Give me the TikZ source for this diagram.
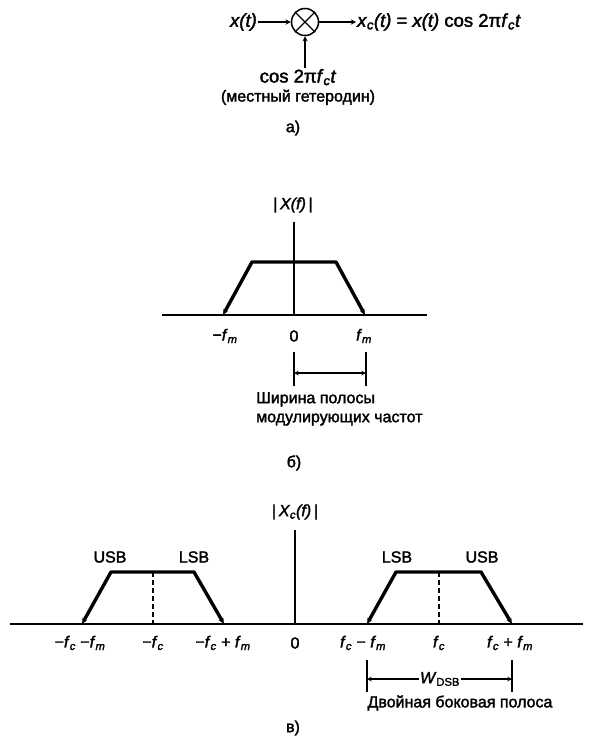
\documentclass[tikz,border=0pt]{standalone}
\usepackage{fontspec}
\setmainfont{Liberation Sans}[BoldFont={Liberation Sans},BoldFeatures={FakeBold=2},
  BoldItalicFont={Liberation Sans Italic},BoldItalicFeatures={FakeBold=2}]
\usetikzlibrary{arrows,arrows.meta}
\newcommand{\vr}[1]{\textit{#1}}
\newcommand{\lo}[1]{\textsubscript{\itshape #1}}
\newcommand{\up}[1]{\textsubscript{#1}}

\begin{document}
\begin{tikzpicture}[x=1pt,y=-1pt,
    every node/.style={font=\fontsize{16}{19}\selectfont\bfseries,inner sep=1pt},
    big/.style={font=\fontsize{18.5}{21}\selectfont\bfseries},
    axis/.style={line width=1.8pt},
    vaxis/.style={line width=1.3pt},
    band/.style={line width=3.4pt,line join=round,{Stealth[length=6pt,width=5pt]}-{Stealth[length=6pt,width=5pt]}},
    mid/.style={line width=1.1pt,dash pattern=on 5pt off 3pt}]
      \useasboundingbox (0,0) rectangle (589,749);

      \node[big,anchor=east] (X) at (258,22) { \vr{x(t)} } ;
      \node[draw,circle,minimum size=27pt,line width=1.5pt] (M) at (305,22) {} ;
      \node[big,anchor=west] (Y) at (356,22) { \vr{x}\lo{c}\vr{(t)} = \vr{x(t)} cos 2π\vr{f}\lo{c}\vr{t} } ;
      \node[align=center] (L) at (298,87) { {\fontsize{18.5}{21}\selectfont cos 2π\vr{f}\lo{c}\vr{t}}\\(местный гетеродин) } ;
      \node (A) at (293,128) { а) } ;
      \draw[line width=1.4pt] (M.north west) -- (M.south east) (M.north east) -- (M.south west) ;
      \draw[->,>=stealth,line width=1.3pt] (X) -- (M) ;
      \draw[->,>=stealth,line width=1.3pt] (M) -- (Y) ;
      \draw[->,>=stealth,line width=1.3pt] (M |- L.north) -- (M) ;

      \draw[axis] (162,315) -- (427,315) ;
      \draw[vaxis] (294,315) -- (294,222) ;
      \draw[band] (223,315) -- (252,262) -- (336,262) -- (365,315) ;
      \node (XF) at (293,205) { |\,\vr{X(f)}\,| } ;
      \node (FL) at (225,336) { −\vr{f}\lo{m} } ;
      \node (F0) at (294,336) { 0 } ;
      \node (FR) at (364,336) { \vr{f}\lo{m} } ;
      \coordinate (P1) at (294,352) ; \coordinate (P2) at (294,386) ;
      \coordinate (Q1) at (366,352) ; \coordinate (Q2) at (366,386) ;
      \coordinate (PB) at (294,373) ; \coordinate (QB) at (366,373) ;
      \draw[line width=1.1pt] (P1) -- (P2) (Q1) -- (Q2) ;
      \draw[<->,>=stealth,line width=1.1pt] (PB) -- (QB) ;
      \node[anchor=north west,align=left] (BW) at (255,391) { Ширина полосы\\модулирующих частот } ;
      \node (B) at (294,463) { б) } ;

      \draw[axis] (10,624) -- (583,624) ;
      \draw[vaxis] (295,624) -- (295,530) ;
      \draw[band] (82,624) -- (111,572) -- (194,572) -- (224,624) ;
      \draw[band] (367,624) -- (396,572) -- (481,572) -- (512,624) ;
      \draw[mid] (153,572) -- (153,624) ;
      \draw[mid] (439,572) -- (439,624) ;
      \node (XC) at (295,512) { |\,\vr{X}\lo{c}\vr{(f)}\,| } ;
      \node (U1) at (110,557) { USB } ;
      \node (L1) at (194,557) { LSB } ;
      \node (L2) at (397,557) { LSB } ;
      \node (U2) at (482,557) { USB } ;
      \node (C1) at (80,643) { −\vr{f}\lo{c} −\vr{f}\lo{m} } ;
      \node (C2) at (153,643) { −\vr{f}\lo{c} } ;
      \node (C3) at (223,643) { −\vr{f}\lo{c} + \vr{f}\lo{m} } ;
      \node (C0) at (295,643) { 0 } ;
      \node (C4) at (363,643) { \vr{f}\lo{c} − \vr{f}\lo{m} } ;
      \node (C5) at (439,643) { \vr{f}\lo{c} } ;
      \node (C6) at (510,643) { \vr{f}\lo{c} + \vr{f}\lo{m} } ;
      \coordinate (R1) at (367,660) ; \coordinate (R2) at (367,692) ;
      \coordinate (S1) at (512,660) ; \coordinate (S2) at (512,692) ;
      \coordinate (RB) at (367,679) ; \coordinate (SB) at (512,679) ;
      \draw[line width=1.1pt] (R1) -- (R2) (S1) -- (S2) ;
      \node (WD) at (440,679) { \vr{W}\up{DSB} } ;
      \draw[->,>=stealth,line width=1.1pt] (WD) -- (RB) ;
      \draw[->,>=stealth,line width=1.1pt] (WD) -- (SB) ;
      \node (DB) at (460,703) { Двойная боковая полоса } ;
      \node (V) at (293,728) { в) } ;
    \end{tikzpicture}
\end{document}
